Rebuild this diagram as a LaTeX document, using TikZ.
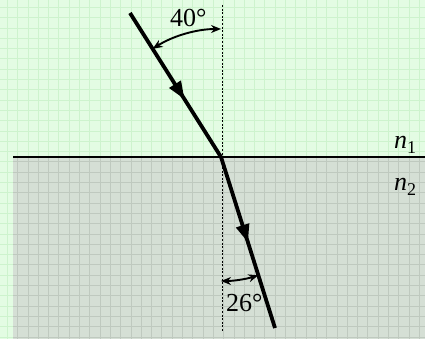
\documentclass[tikz,border=0pt]{standalone}
\usepackage{fontspec}
\setmainfont{Liberation Serif}
\usetikzlibrary{arrows.meta,decorations.markings}
\definecolor{topbg}{HTML}{E3FCE3}
\definecolor{topgrid}{HTML}{CDF3CD}
\definecolor{botbg}{HTML}{D5DFD5}
\definecolor{botgrid}{HTML}{BFC9BF}
\tikzset{
  ray/.style={line width=3.8pt},
  anglearrow/.style={line width=1.9pt,{Stealth[length=10pt,width=8pt]}-{Stealth[length=10pt,width=8pt]}},
  normalline/.style={line width=0.8pt,dash pattern=on 2pt off 1.6pt},
  lbl/.style={inner sep=0pt,font=\fontsize{26pt}{28pt}\selectfont},
}
\begin{document}
\begin{tikzpicture}[x=1pt,y=-1pt]
\useasboundingbox (0,0) rectangle (425,339);
% backgrounds
\fill[topbg] (0,0) rectangle (425,339);
\foreach \i in {0,...,41} {\draw[topgrid,line width=0.7pt] (7.3+10.3*\i,0) -- (7.3+10.3*\i,339);}
\foreach \i in {0,...,32} {\draw[topgrid,line width=0.7pt] (0,7.3+10.3*\i) -- (425,7.3+10.3*\i);}
\fill[botbg] (13,157) rectangle (425,339);
\begin{scope}
\clip (13,157) rectangle (425,339);
\foreach \i in {0,...,41} {\draw[botgrid,line width=0.7pt] (7.3+10.3*\i,157) -- (7.3+10.3*\i,339);}
\foreach \i in {15,...,32} {\draw[botgrid,line width=0.7pt] (0,7.3+10.3*\i) -- (425,7.3+10.3*\i);}
\end{scope}
% geometry
\coordinate (O) at (221,157);
\coordinate (S) at (130,13);
\coordinate (E) at (275,328);
\coordinate (NT) at (222,5);
\coordinate (NB) at (222,332);
\coordinate (IL) at (13,157);
\coordinate (IR) at (425,157);
\draw[normalline] (NT) -- (NB);
\draw[line width=2pt] (IL) -- (IR);
\draw[ray,postaction={decorate},decoration={markings,mark=at position 0.6 with {\arrow{Triangle[length=18pt,width=13pt]}}}] (S) -- (O);
\draw[ray,postaction={decorate},decoration={markings,mark=at position 0.5 with {\arrow{Triangle[length=18pt,width=13pt]}}}] (O) -- (E);
% angle arcs
\draw[anglearrow] ([shift={(-122.3:128)}]O) arc[start angle=-122.3, end angle=-90, radius=128];
\draw[anglearrow] ([shift={(90:124)}]O) arc[start angle=90, end angle=72.5, radius=124];
% labels
\node[lbl,anchor=base west] (a1) at (170,27) {40°};
\node[lbl,anchor=base west] (a2) at (226,311) {26°};
\node[lbl,anchor=base west] (n1) at (394,149) {\textit{n}\raisebox{-5pt}{\fontsize{18pt}{18pt}\selectfont 1}};
\node[lbl,anchor=base west] (n2) at (394,190) {\textit{n}\raisebox{-5pt}{\fontsize{18pt}{18pt}\selectfont 2}};
\end{tikzpicture}
\end{document}
